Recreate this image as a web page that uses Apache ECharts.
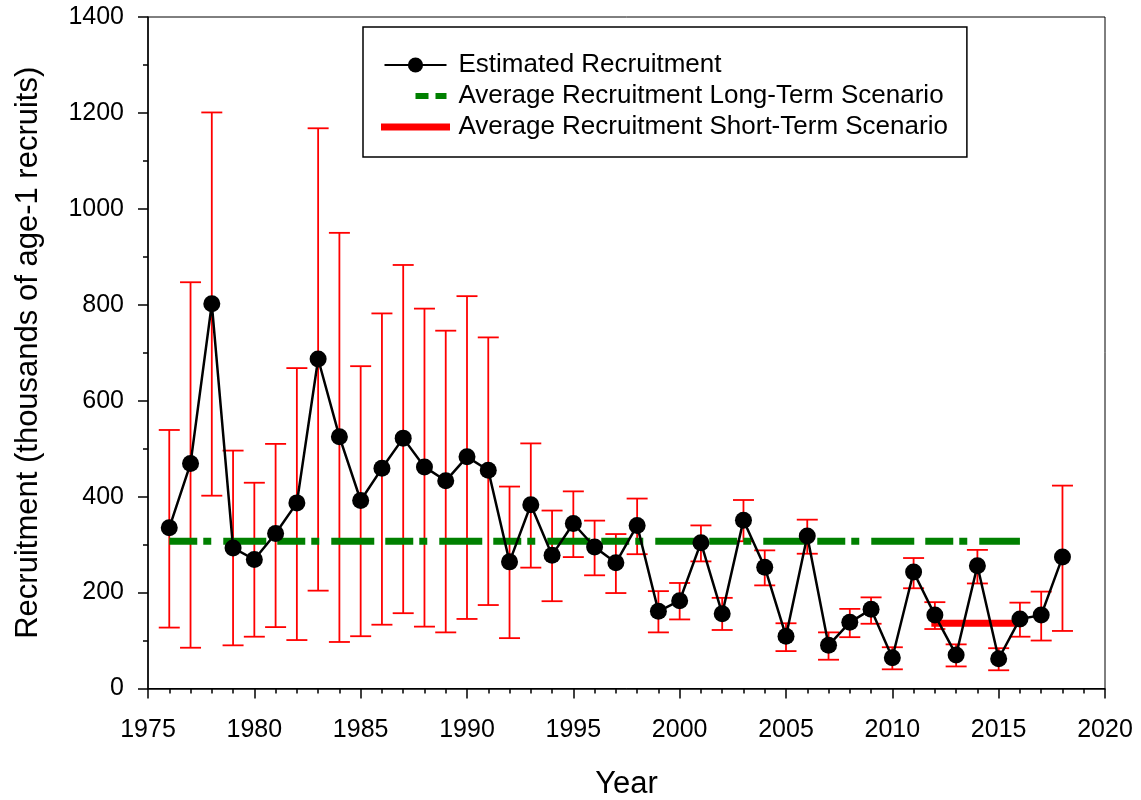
<!DOCTYPE html>
<html>
<head>
<meta charset="utf-8">
<script src="https://cdn.jsdelivr.net/npm/echarts@6/dist/echarts.min.js"></script>
<style>
html,body{margin:0;padding:0;background:#fff;}
#chart{width:1141px;height:800px;}
</style>
</head>
<body>
<div id="chart"></div>
<script>
const years = [1976,1977,1978,1979,1980,1981,1982,1983,1984,1985,1986,1987,1988,1989,1990,1991,1992,1993,1994,1995,1996,1997,1998,1999,2000,2001,2002,2003,2004,2005,2006,2007,2008,2009,2010,2011,2012,2013,2014,2015,2016,2017,2018];
const recruitment = [335,469,802,293,269,323,387,687,525,392,459,522,462,433,483,455,264,383,278,344,295,262,340,161,183,304,156,351,253,109,318,90,138,165,64,243,153,70,256,62,145,153,274];
const upperCI = [539,847,1201,496,429,510,668,1168,950,672,782,883,792,746,818,732,421,511,371,411,350,322,396,203,220,340,189,393,288,136,352,117,166,190,86,272,180,92,289,84,179,202,423];
const lowerCI = [127,85,402,90,108,128,101,204,97,109,133,157,129,117,145,174,105,252,182,274,236,199,280,117,144,265,122,307,215,78,281,60,107,135,40,209,124,46,219,38,108,100,120];
const longTermYears = [1976, 2016];
const longTermValue = 307;
const shortTermYears = [2012, 2016];
const shortTermValue = 136;
const xTicks = [1975,1980,1985,1990,1995,2000,2005,2010,2015,2020];
const yTicks = [0,200,400,600,800,1000,1200,1400];

const FONT = "'Liberation Sans', Arial, sans-serif";
const NAME_EST = 'Estimated Recruitment';
const NAME_LT = 'Average Recruitment Long-Term Scenario';
const NAME_ST = 'Average Recruitment Short-Term Scenario';

const chart = echarts.init(document.getElementById('chart'), null, {renderer:'canvas'});
const option = {
  animation: false,
  backgroundColor: '#fff',
  grid: {left:148, right:36, top:17, bottom:111.5, show:true, borderColor:'#000', borderWidth:1, backgroundColor:'transparent', outerBoundsMode:'none', containLabel:false},
  legend: {
    orient:'vertical', left:363, top:27,
    padding:[25,19,17,18],
    borderColor:'#000', borderWidth:1.5, backgroundColor:'#fff',
    itemWidth:62, itemHeight:19, itemGap:5, align:'left',
    selectedMode:false,
    textStyle:{fontFamily:FONT, fontSize:26, lineHeight:26, color:'#000', padding:[0,0,0,7]},
    data:[
      {name:NAME_EST},
      {name:NAME_LT, itemStyle:{color:'rgba(0,0,0,0)', borderColor:'rgba(0,0,0,0)', borderWidth:0}, lineStyle:{type:[0,31,13,7,11,10], width:6, cap:'butt'}},
      {name:NAME_ST, itemStyle:{color:'rgba(0,0,0,0)', borderColor:'rgba(0,0,0,0)', borderWidth:0}, lineStyle:{width:7, cap:'square'}}
    ]
  },
  xAxis: {
    type:'value', min:xTicks[0], max:xTicks[xTicks.length-1], interval:5,
    name:'Year', nameLocation:'middle', nameGap:80,
    nameTextStyle:{fontFamily:FONT, fontSize:31, color:'#000'},
    axisLine:{show:true, onZero:false, lineStyle:{color:'#000', width:1.5}},
    axisTick:{show:true, inside:false, length:10, lineStyle:{color:'#000', width:1.5}},
    minorTick:{show:true, splitNumber:5, length:5, lineStyle:{color:'#000', width:1.5}},
    splitLine:{show:false},
    axisLabel:{fontFamily:FONT, fontSize:25, color:'#000', margin:29, formatter: v => String(v)}
  },
  yAxis: {
    type:'value', min:yTicks[0], max:yTicks[yTicks.length-1], interval:200,
    name:'Recruitment (thousands of age-1 recruits)', nameLocation:'middle', nameGap:104,
    nameTextStyle:{fontFamily:FONT, fontSize:31, color:'#000'},
    axisLine:{show:true, onZero:false, lineStyle:{color:'#000', width:1.5}},
    axisTick:{show:true, inside:false, length:10, lineStyle:{color:'#000', width:1.5}},
    minorTick:{show:true, splitNumber:2, length:5, lineStyle:{color:'#000', width:1.5}},
    splitLine:{show:false},
    axisLabel:{fontFamily:FONT, fontSize:25, color:'#000', margin:24, formatter: v => String(v)}
  },
  series: [
    {
      name:'Error bars', type:'custom', z:1, silent:true,
      data: years.map((y,i)=>[y, lowerCI[i], upperCI[i]]),
      encode:{x:0, y:[1,2]},
      renderItem: function(params, api){
        const x = api.value(0), lo = api.value(1), hi = api.value(2);
        const pH = api.coord([x, hi]);
        const pL = api.coord([x, lo]);
        const hw = 10.5;
        const st = {stroke:'#ff0000', lineWidth:1.8, fill:null};
        return {type:'group', children:[
          {type:'line', shape:{x1:pH[0], y1:pH[1], x2:pL[0], y2:pL[1]}, style:st},
          {type:'line', shape:{x1:pH[0]-hw, y1:pH[1], x2:pH[0]+hw, y2:pH[1]}, style:st},
          {type:'line', shape:{x1:pL[0]-hw, y1:pL[1], x2:pL[0]+hw, y2:pL[1]}, style:st}
        ]};
      }
    },
    {
      name:NAME_LT, type:'line', z:2, silent:true,
      data: longTermYears.map(y=>[y, longTermValue]),
      symbol:'none', color:'#008000',
      lineStyle:{color:'#008000', width:7, type:[28,6,8,12,43,11], cap:'butt'}
    },
    {
      name:NAME_ST, type:'line', z:3, silent:true,
      data: shortTermYears.map(y=>[y, shortTermValue]),
      symbol:'none', color:'#ff0000',
      lineStyle:{color:'#ff0000', width:7, cap:'square'}
    },
    {
      name:NAME_EST, type:'line', z:4, silent:true,
      data: years.map((y,i)=>[y, recruitment[i]]),
      symbol:'circle', symbolSize:17, showSymbol:true, showAllSymbol:true,
      color:'#000',
      itemStyle:{color:'#000'},
      lineStyle:{color:'#000', width:2.5}
    }
  ]
};
chart.setOption(option);
</script>
</body>
</html>
